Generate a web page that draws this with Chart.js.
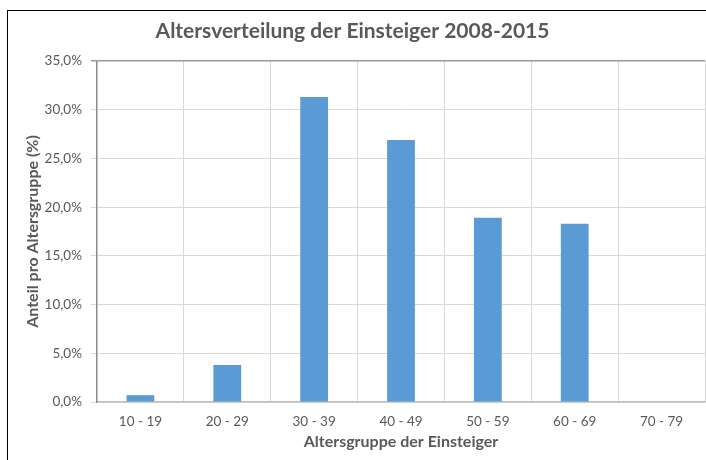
<!DOCTYPE html>
<html>
<head>
<meta charset="utf-8">
<script src="https://cdn.jsdelivr.net/npm/chart.js@4.4.0/dist/chart.umd.min.js"></script>
<style>
    html, body { margin: 0; padding: 0; background: #fff; overflow: hidden; }
    #wrap { position: relative; width: 706px; height: 460px; }
    #frame { position: absolute; left: 7px; top: 10px; width: 720px; height: 470px; border: 1.5px solid #000; box-sizing: border-box; pointer-events: none; }
    canvas { position: absolute; left: 0; top: 0; }
</style>
</head>
<body>
<div id="wrap">
    <canvas id="age_chart" width="706" height="460"></canvas>
    <div id="frame"></div>
</div>
<script>
// Altersgruppen und Anteile (in %)
var ageGroups = ['10 - 19', '20 - 29', '30 - 39', '40 - 49', '50 - 59', '60 - 69', '70 - 79'];
var shareValues = [0.7, 3.8, 31.3, 26.9, 18.9, 18.3, 0];
var yTicks = [0, 5, 10, 15, 20, 25, 30, 35];

var fontFamily = 'Lato, "Open Sans", sans-serif';
var textColor = '#595959';

document.addEventListener('DOMContentLoaded', function () {
    var ctx = document.getElementById('age_chart').getContext('2d');
    var ageChart = new Chart(ctx, {
        type: 'bar',
        data: {
            labels: ageGroups,
            datasets: [{
                label: 'Anteil pro Altersgruppe',
                data: shareValues,
                backgroundColor: '#5B9BD5',
                borderWidth: 0,
                barPercentage: 0.32,
                categoryPercentage: 1
            }]
        },
        options: {
            responsive: false,
            animation: false,
            layout: { padding: { top: 19, left: 0, right: 1, bottom: 0 } },
            plugins: {
                legend: { display: false },
                tooltip: { enabled: false },
                title: {
                    display: true,
                    text: 'Altersverteilung der Einsteiger 2008-2015',
                    color: textColor,
                    font: { family: fontFamily, size: 21, weight: 'bold', lineHeight: 1.2 },
                    padding: { top: 0, bottom: 16.8 }
                }
            },
            scales: {
                x: {
                    afterFit: function (scale) { scale.height = 58; },
                    grid: { color: '#d9d9d9', drawTicks: false },
                    border: { color: '#bfbfbf', width: 1.5 },
                    ticks: { color: textColor, font: { family: fontFamily, size: 13.5 }, padding: 12 },
                    title: {
                        display: true,
                        text: 'Altersgruppe der Einsteiger',
                        color: textColor,
                        font: { family: fontFamily, size: 16, weight: 'bold', lineHeight: 1.2 },
                        padding: { top: 0, bottom: 8.4 }
                    }
                },
                y: {
                    min: 0,
                    max: 35,
                    afterFit: function (scale) { scale.width = 97; },
                    afterBuildTicks: function (scale) {
                        scale.ticks = yTicks.map(function (v) { return { value: v }; });
                    },
                    grid: {
                        color: function (c) { return c.tick && c.tick.value === 35 ? '#999999' : '#d9d9d9'; },
                        lineWidth: function (c) { return c.tick && c.tick.value === 35 ? 1.5 : 1; },
                        tickLength: 6
                    },
                    border: { color: '#8c8c8c', width: 1.5 },
                    ticks: {
                        color: textColor,
                        font: { family: fontFamily, size: 13.5 },
                        padding: 9,
                        callback: function (v) { return v.toFixed(1).replace('.', ',') + '%'; }
                    },
                    title: {
                        display: true,
                        text: 'Anteil pro Altersgruppe (%)',
                        color: textColor,
                        font: { family: fontFamily, size: 16, weight: 'bold', lineHeight: 1.2 },
                        padding: { top: 23.5, bottom: 0 }
                    }
                }
            }
        }
    });
});
</script>
</body>
</html>
